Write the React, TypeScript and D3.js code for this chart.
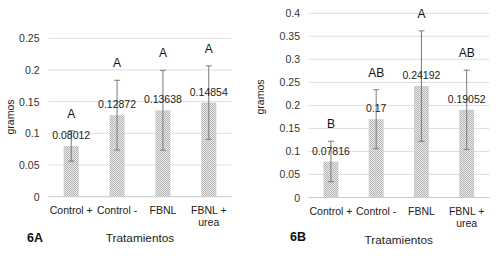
import React from "react";
import * as d3 from "d3";

const categories = ["Control +", "Control -", "FBNL", "FBNL + urea"];
const categoryLines = [["Control +"], ["Control -"], ["FBNL"], ["FBNL +", "urea"]];

const valuesA = [0.08012, 0.12872, 0.13638, 0.14854];
const errorsA = [0.024, 0.055, 0.063, 0.058];
const lettersA = ["A", "A", "A", "A"];
const ticksA = [0, 0.05, 0.1, 0.15, 0.2, 0.25];
const labelsA = ["0.08012", "0.12872", "0.13638", "0.14854"];

const valuesB = [0.07816, 0.17, 0.24192, 0.19052];
const errorsB = [0.044, 0.064, 0.12, 0.086];
const lettersB = ["B", "AB", "A", "AB"];
const ticksB = [0, 0.05, 0.1, 0.15, 0.2, 0.25, 0.3, 0.35, 0.4];
const labelsB = ["0.07816", "0.17", "0.24192", "0.19052"];

const FONT = "'Liberation Sans', Arial, sans-serif";

type PanelProps = {
  id: string;
  title: string;
  values: number[];
  errors: number[];
  letters: string[];
  labels: string[];
  ticks: number[];
  yMax: number;
  x0: number;
  x1: number;
  yTop: number;
  yBottom: number;
  tickRight: number;
  yTitleX: number;
  yTitleY: number;
  titleX: number;
  titleY: number;
  xTitleX: number;
  xTitleY: number;
};

function Panel(p: PanelProps) {
  const x = d3
    .scaleBand<string>()
    .domain(categories)
    .range([p.x0, p.x1])
    .paddingInner(0.67)
    .paddingOuter(0.335);
  const y = d3.scaleLinear().domain([0, p.yMax]).range([p.yBottom, p.yTop]);
  const bw = x.bandwidth();
  return (
    <g>
      {p.ticks.map((t, i) => (
        <g key={"t" + i}>
          <line
            x1={p.x0}
            x2={p.x1}
            y1={y(t)}
            y2={y(t)}
            stroke={t === 0 ? "#c8c8c8" : "#dedede"}
            strokeWidth={1}
          />
          <text
            x={p.tickRight}
            y={y(t)}
            textAnchor="end"
            dominantBaseline="central"
            fontSize={10.5}
            fill="#333"
          >
            {String(t)}
          </text>
        </g>
      ))}
      {categories.map((c, i) => {
        const cx = (x(c) as number) + bw / 2;
        const v = p.values[i];
        const e = p.errors[i];
        return (
          <g key={"b" + i}>
            <rect
              x={x(c)}
              y={y(v)}
              width={bw}
              height={y(0) - y(v)}
              fill="url(#dots)"
            />
            <line x1={cx} x2={cx} y1={y(v + e)} y2={y(v - e)} stroke="#7a7a7a" strokeWidth={1} />
            <line x1={cx - 3} x2={cx + 3} y1={y(v + e)} y2={y(v + e)} stroke="#7a7a7a" strokeWidth={1} />
            <line x1={cx - 3} x2={cx + 3} y1={y(v - e)} y2={y(v - e)} stroke="#7a7a7a" strokeWidth={1} />
            <text
              x={cx}
              y={y(v) - 11}
              textAnchor="middle"
              dominantBaseline="central"
              fontSize={10.5}
              fill="#222"
            >
              {p.labels[i]}
            </text>
            <text
              x={cx}
              y={y(v + e) - 17}
              textAnchor="middle"
              dominantBaseline="central"
              fontSize={12}
              fill="#111"
            >
              {p.letters[i]}
            </text>
            {categoryLines[i].map((ln, j) => (
              <text
                key={j}
                x={cx}
                y={p.yBottom + 13 + j * 12}
                textAnchor="middle"
                dominantBaseline="central"
                fontSize={10.5}
                fill="#222"
              >
                {ln}
              </text>
            ))}
          </g>
        );
      })}
      <text
        transform={`translate(${p.yTitleX},${p.yTitleY}) rotate(-90)`}
        textAnchor="middle"
        dominantBaseline="central"
        fontSize={10.5}
        fill="#222"
      >
        gramos
      </text>
      <text
        x={p.titleX}
        y={p.titleY}
        dominantBaseline="central"
        fontSize={12.5}
        fontWeight="bold"
        fill="#111"
      >
        {p.title}
      </text>
      <text
        x={p.xTitleX}
        y={p.xTitleY}
        textAnchor="middle"
        dominantBaseline="central"
        fontSize={11.8}
        fill="#222"
      >
        Tratamientos
      </text>
    </g>
  );
}

export default function App() {
  return (
    <svg
      width={500}
      height={256}
      style={{ position: "absolute", left: 0, top: 0, background: "#fff" }}
      fontFamily={FONT}
    >
      <defs>
        <pattern id="dots" width={2} height={2} patternUnits="userSpaceOnUse">
          <rect width={2} height={2} fill="#e8e8e8" />
          <rect width={1} height={1} fill="#b6b6b6" />
          <rect x={1} y={1} width={1} height={1} fill="#b6b6b6" />
        </pattern>
      </defs>
      <rect width={500} height={256} fill="#fff" />
      <Panel
        id="A"
        title="6A"
        values={valuesA}
        errors={errorsA}
        letters={lettersA}
        labels={labelsA}
        ticks={ticksA}
        yMax={0.25}
        x0={48.3}
        x1={231.7}
        yTop={38.3}
        yBottom={196.7}
        tickRight={39.5}
        yTitleX={9.5}
        yTitleY={117}
        titleX={27}
        titleY={238.3}
        xTitleX={140}
        xTitleY={238.3}
      />
      <Panel
        id="B"
        title="6B"
        values={valuesB}
        errors={errorsB}
        letters={lettersB}
        labels={labelsB}
        ticks={ticksB}
        yMax={0.4}
        x0={308.3}
        x1={489.3}
        yTop={13.3}
        yBottom={197.5}
        tickRight={300}
        yTitleX={260}
        yTitleY={97}
        titleX={290}
        titleY={236.5}
        xTitleX={398.8}
        xTitleY={240}
      />
    </svg>
  );
}
